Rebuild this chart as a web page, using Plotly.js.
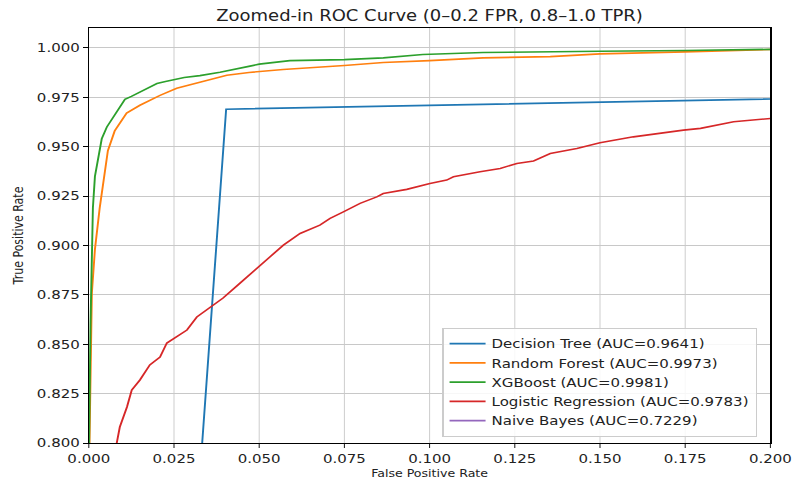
<!DOCTYPE html>
<html>
<head>
<meta charset="utf-8">
<script src="https://cdn.plot.ly/plotly-3.0.1.min.js"></script>
<style>
  html, body { margin: 0; padding: 0; background: #ffffff; overflow: hidden; }
  /* The figure is laid out at 660px and widened 1.2x to fill the 792px frame */
  #chart { width: 660px; height: 485px; transform: scale(1.2, 1); transform-origin: 0 0; }
</style>
</head>
<body>
<div id="chart"></div>
<script>
// ROC curves of five classifiers, viewed in the low-FPR / high-TPR corner.

// Decision Tree: a single operating point between (0,0) and (1,1)
const dtFpr = [0, 0.0403, 1];
const dtTpr = [0, 0.969, 1];

// Random Forest
const rfFpr = [0, 0.0002, 0.0009, 0.0018, 0.0032, 0.0047, 0.0056, 0.0076, 0.0111, 0.015, 0.0209, 0.0258, 0.0326, 0.0405, 0.047, 0.057, 0.075, 0.0864, 0.100, 0.1157, 0.1354, 0.150, 0.175, 0.200, 1];
const rfTpr = [0, 0.800, 0.876, 0.898, 0.919, 0.938, 0.948, 0.958, 0.967, 0.971, 0.976, 0.9796, 0.9827, 0.9862, 0.9876, 0.9891, 0.9911, 0.9926, 0.9936, 0.995, 0.9956, 0.997, 0.998, 0.9992, 1];

// XGBoost
const xgbFpr = [0, 0.0001, 0.0005, 0.0009, 0.0012, 0.0018, 0.0023, 0.0032, 0.0038, 0.0053, 0.0076, 0.0106, 0.0125, 0.015, 0.0175, 0.020, 0.0225, 0.0247, 0.028, 0.0326, 0.0385, 0.0473, 0.050, 0.059, 0.075, 0.0864, 0.098, 0.1157, 0.1354, 0.150, 0.175, 0.200, 1];
const xgbTpr = [0, 0.800, 0.860, 0.8977, 0.919, 0.935, 0.940, 0.950, 0.954, 0.960, 0.966, 0.974, 0.9755, 0.9776, 0.980, 0.982, 0.983, 0.9837, 0.985, 0.986, 0.9877, 0.9908, 0.9918, 0.9936, 0.9941, 0.995, 0.9967, 0.9977, 0.9982, 0.9983, 0.9987, 0.9993, 1];

// Logistic Regression
const lrFpr = [0, 0.0082, 0.0091, 0.0112, 0.0126, 0.0150, 0.0179, 0.0209, 0.0229, 0.0258, 0.0288, 0.0317, 0.0355, 0.0394, 0.0443, 0.0502, 0.0532, 0.0571, 0.0620, 0.0678, 0.0708, 0.0747, 0.0796, 0.0845, 0.0864, 0.0933, 0.1001, 0.1050, 0.1070, 0.1148, 0.1207, 0.1256, 0.1305, 0.1354, 0.1432, 0.1500, 0.1598, 0.1745, 0.1795, 0.1892, 0.2000, 1];
const lrTpr = [0, 0.800, 0.8081, 0.8182, 0.8268, 0.8319, 0.8395, 0.8435, 0.8506, 0.8537, 0.8572, 0.8638, 0.8684, 0.8734, 0.8808, 0.8901, 0.8943, 0.9002, 0.9061, 0.9103, 0.9137, 0.9170, 0.9213, 0.9246, 0.9263, 0.9284, 0.9314, 0.9331, 0.9348, 0.9373, 0.9390, 0.9415, 0.9428, 0.9466, 0.9491, 0.9520, 0.9550, 0.9584, 0.9593, 0.9626, 0.9643, 1];

// Naive Bayes (stays below the visible TPR window)
const nbFpr = [0, 0.05, 0.10, 0.20, 0.40, 0.70, 1];
const nbTpr = [0, 0.30, 0.42, 0.55, 0.72, 0.88, 1];

const modelNames = ['Decision Tree', 'Random Forest', 'XGBoost', 'Logistic Regression', 'Naive Bayes'];
const aucValues = [0.9641, 0.9973, 0.9981, 0.9783, 0.7229];
const curves = [[dtFpr, dtTpr], [rfFpr, rfTpr], [xgbFpr, xgbTpr], [lrFpr, lrTpr], [nbFpr, nbTpr]];
const colors = ['#1f77b4', '#ff7f0e', '#2ca02c', '#d62728', '#9467bd'];

const xTickVals = [0, 0.025, 0.05, 0.075, 0.1, 0.125, 0.15, 0.175, 0.2];
const yTickVals = [0.8, 0.825, 0.85, 0.875, 0.9, 0.925, 0.95, 0.975, 1.0];

const FONT = 'DejaVu Sans, Liberation Sans, sans-serif';
// vertical strokes get widened by the horizontal stretch, so they are drawn thinner
const V_STROKE = 1 / 1.2;

const traces = curves.map((c, i) => ({
  type: 'scatter',
  mode: 'lines',
  x: c[0],
  y: c[1],
  name: modelNames[i] + ' (AUC=' + aucValues[i].toFixed(4) + ')',
  line: { color: colors[i], width: 1.6 },
  hoverinfo: 'skip'
}));

const axisCommon = {
  showline: true,
  mirror: true,
  linecolor: '#000000',
  ticks: 'outside',
  ticklen: 4,
  tickcolor: '#000000',
  showgrid: true,
  gridcolor: '#c8c8c8',
  zeroline: false,
  tickfont: { family: FONT, size: 12.5, color: '#222222' },
  tickformat: '.3f'
};

const layout = {
  width: 660,
  height: 485,
  paper_bgcolor: '#ffffff',
  plot_bgcolor: '#ffffff',
  margin: { l: 74.2, r: 18.3, t: 28, b: 42 },
  title: {
    text: 'Zoomed-in ROC Curve (0–0.2 FPR, 0.8–1.0 TPR)',
    font: { family: FONT, size: 15, color: '#222222' },
    x: 0.5, xref: 'paper', xanchor: 'center',
    y: 1 - 16 / 485, yref: 'container', yanchor: 'middle'
  },
  xaxis: Object.assign({}, axisCommon, {
    range: [0, 0.2],
    tickvals: xTickVals,
    linewidth: 1,
    tickwidth: V_STROKE,
    gridwidth: V_STROKE,
    title: { text: 'False Positive Rate', font: { family: FONT, size: 10.5, color: '#222222' }, standoff: 4 }
  }),
  yaxis: Object.assign({}, axisCommon, {
    range: [0.8, 1.0101],
    tickvals: yTickVals,
    linewidth: 1.2 * V_STROKE,
    tickwidth: 1,
    gridwidth: 1,
    title: { text: 'True Positive Rate', font: { family: FONT, size: 11, color: '#222222' }, standoff: 8 }
  }),
  showlegend: true,
  legend: {
    x: 0.98, xanchor: 'right',
    y: 0.0145, yanchor: 'bottom',
    bgcolor: 'rgba(255,255,255,0.85)',
    bordercolor: '#cccccc',
    borderwidth: 1,
    font: { family: FONT, size: 12.5, color: '#222222' },
    tracegroupgap: 0
  }
};

Plotly.newPlot('chart', traces, layout, { displayModeBar: false, staticPlot: true });
</script>
</body>
</html>
